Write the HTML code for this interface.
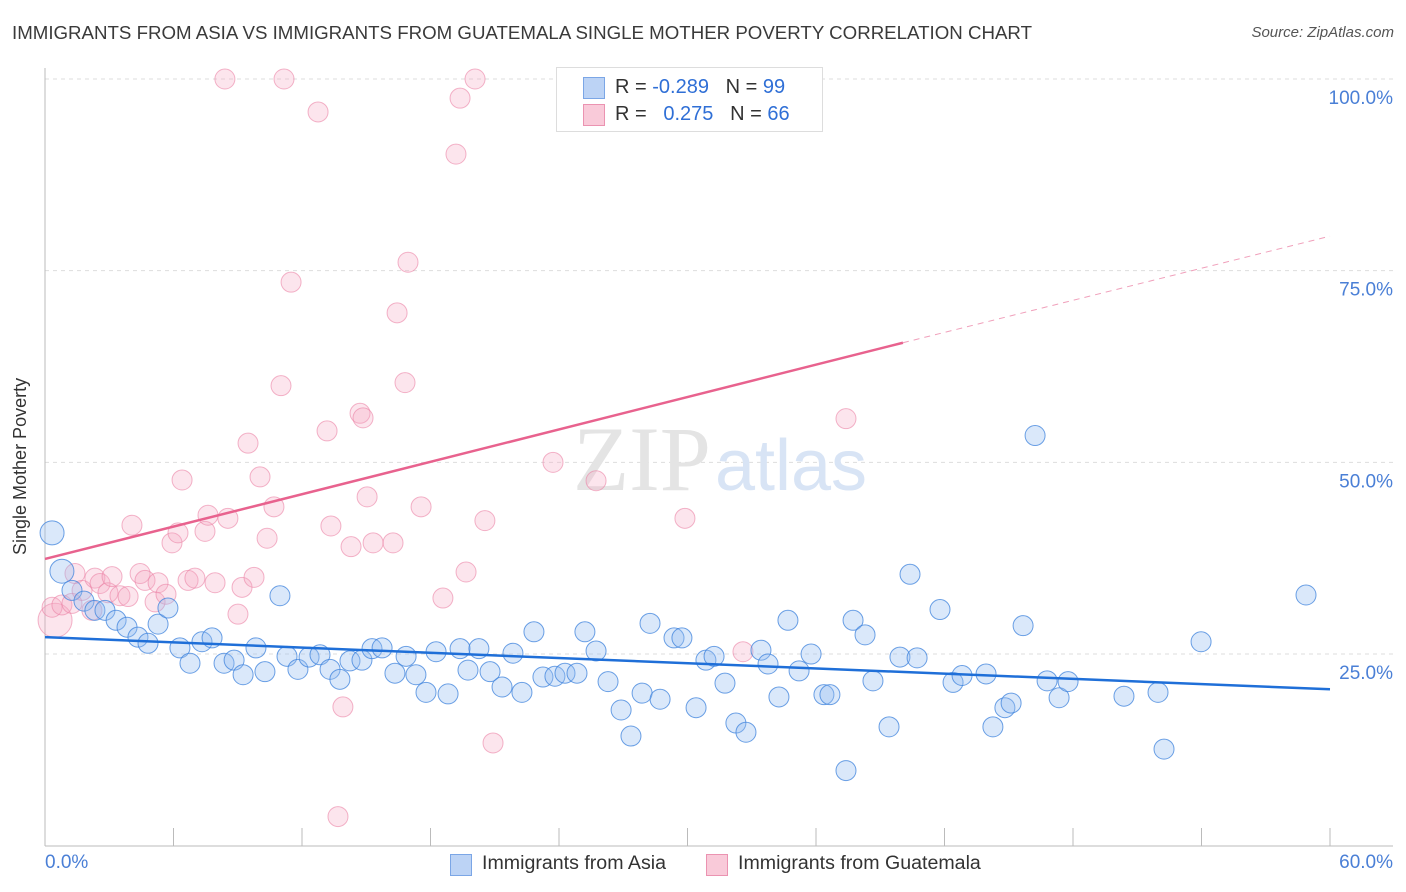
<!DOCTYPE html>
<html><head><meta charset="utf-8"><style>
body{margin:0;background:#fff;font-family:"Liberation Sans",sans-serif;}
#wrap{position:relative;width:1406px;height:892px;overflow:hidden}
.t{position:absolute;white-space:nowrap}
</style></head><body>
<div id="wrap">
<div class="t" style="left:12px;top:22px;font-size:18.7px;color:#3a3a3a">IMMIGRANTS FROM ASIA VS IMMIGRANTS FROM GUATEMALA SINGLE MOTHER POVERTY CORRELATION CHART</div>
<div class="t" style="right:12px;top:24px;font-size:15px;color:#555;font-style:italic">Source: ZipAtlas.com</div>
<div class="t" style="left:10px;top:555px;font-size:18px;color:#333;transform:rotate(-90deg);transform-origin:0 0">Single Mother Poverty</div>
<svg id="svg" width="1406" height="892" style="position:absolute;left:0;top:0"></svg>
</div>
<script>
const asiaX=[0.33,0.79,1.26,1.82,2.33,2.80,3.32,3.83,4.34,4.81,5.28,5.74,6.30,6.77,7.33,7.80,8.36,8.83,9.25,9.85,10.27,10.97,11.30,11.81,12.33,12.84,13.31,13.77,14.24,14.80,15.27,15.74,16.34,16.86,17.32,17.79,18.26,18.82,19.38,19.75,20.26,20.78,21.34,21.85,22.27,22.83,23.25,23.81,24.28,24.84,25.21,25.73,26.29,26.90,27.36,27.88,28.25,28.72,29.37,29.74,30.40,30.86,31.24,31.75,32.26,32.73,33.43,33.76,34.27,34.69,35.21,35.77,36.37,36.65,37.40,37.73,38.29,38.66,39.41,39.92,40.39,40.72,41.79,42.40,42.82,43.94,44.26,44.82,45.11,45.67,46.23,46.79,47.35,47.77,50.38,51.97,52.25,53.98,58.88];
const asiaY=[40.8,35.8,33.3,31.9,30.7,30.7,29.4,28.5,27.2,26.4,28.9,31.0,25.8,23.8,26.6,27.1,23.8,24.2,22.3,25.8,22.7,32.6,24.7,23.0,24.6,24.9,23.0,21.7,24.1,24.2,25.7,25.8,22.5,24.7,22.3,20.0,25.3,19.8,25.7,22.9,25.7,22.7,20.7,25.1,20.0,27.9,22.0,22.1,22.5,22.5,27.9,25.4,21.4,17.7,14.3,19.9,29.0,19.1,27.1,27.1,18.0,24.2,24.7,21.2,16.0,14.8,25.5,23.7,19.4,29.4,22.8,25.0,19.7,19.7,9.8,29.4,27.5,21.5,15.5,24.6,35.4,24.5,30.8,21.3,22.2,22.4,15.5,18.0,18.6,28.7,53.5,21.5,19.3,21.4,19.5,20.0,12.6,26.6,32.7];
const guaX=[0.47,0.33,0.79,1.26,1.40,1.73,2.19,2.33,2.57,2.94,3.13,3.50,3.88,4.06,4.44,4.67,5.14,5.28,5.65,5.93,6.21,6.40,6.68,7.00,7.47,7.61,7.94,8.54,9.01,9.20,9.48,9.76,10.04,10.37,10.69,11.02,11.49,12.75,8.40,11.16,13.17,13.35,13.68,13.91,14.29,14.71,14.85,15.04,15.32,16.25,16.44,16.81,16.95,17.56,18.58,19.19,19.38,19.66,20.08,20.54,20.92,23.72,25.73,29.88,32.59,37.40];
const guaY=[29.4,31.1,31.4,31.6,35.5,33.3,30.7,34.9,34.2,33.0,35.1,32.6,32.5,41.8,35.5,34.6,31.8,34.3,32.8,39.5,40.8,47.7,34.6,34.9,41.0,43.1,34.3,42.7,30.2,33.7,52.5,35.0,48.1,40.1,44.2,60.0,73.5,95.7,100,100,54.1,41.7,3.8,18.1,39.0,56.4,55.8,45.5,39.5,39.5,69.5,60.4,76.1,44.2,32.3,90.2,97.5,35.7,100,42.4,13.4,50.0,47.6,42.7,25.3,55.7];
const yTicks=[25,50,75,100];
const X=v=>45+v/60*1285, Y=v=>845.7-v*7.667;
const s=document.getElementById('svg');const NS='http://www.w3.org/2000/svg';
function mk(t,a,p){const e=document.createElementNS(NS,t);for(const k in a)e.setAttribute(k,a[k]);(p||s).appendChild(e);return e;}
for(const v of yTicks){const g=mk('line',{x1:45,x2:1393,y1:Y(v),y2:Y(v),stroke:'#ddd','stroke-dasharray':'4,4'});


const t=mk('text',{x:1393,y:Y(v)+25,'text-anchor':'end','font-size':19,fill:'#4a7fd6','font-family':'Liberation Sans'});t.textContent=v.toFixed(1)+'%';

}
mk('line',{x1:45,x2:1393,y1:846,y2:846,stroke:'#bbb'});
mk('line',{x1:45,x2:45,y1:68,y2:846,stroke:'#bbb'});
for(let i=0;i<=10;i++){const l=mk('line',{x1:X(i*6),x2:X(i*6),y1:828,y2:846,stroke:'#bbb'});

}
const w=mk('text',{x:720,y:490,'text-anchor':'middle','font-size':92,fill:'#e4e4e4','font-family':'Liberation Serif'});
w.innerHTML='ZIP<tspan font-family="Liberation Sans" font-size="72" fill="#d8e4f5" dx="4">atlas</tspan>';


function pts(xs,ys,fill,stroke,name,big){for(let i=0;i<Math.min(xs.length,ys.length);i++){
const c=mk('circle',{cx:X(xs[i]),cy:Y(ys[i]),r:big[i]||10,fill:fill,stroke:stroke,'stroke-width':1});

}}
pts(guaX,guaY,'rgba(246,170,195,0.3)','rgba(235,130,165,0.6)','guatemala-point',{0:17});
pts(asiaX,asiaY,'rgba(150,190,240,0.35)','rgba(60,130,220,0.75)','asia-point',{0:12,1:12});
const bl=mk('line',{x1:X(0),y1:Y(27.2),x2:X(60),y2:Y(20.4),stroke:'#1f6fd8','stroke-width':2.5});


const pl=mk('line',{x1:X(0),y1:Y(37.4),x2:X(40.06),y2:Y(65.6),stroke:'#e8628e','stroke-width':2.5});


const pd=mk('line',{x1:X(40.06),y1:Y(65.6),x2:X(60),y2:Y(79.5),stroke:'#f0a0bb','stroke-width':1,'stroke-dasharray':'6,5'});


</script>
<div class="t" style="left:45px;top:852px;font-size:19px;color:#4a7fd6">0.0%</div>
<div class="t" style="right:13px;top:852px;font-size:19px;color:#4a7fd6">60.0%</div>
<div style="position:absolute;left:556px;top:67px;width:265px;height:63px;border:1px solid #ddd;background:#fff;font-size:20px;color:#333">
<div style="position:absolute;left:26px;top:9px;width:20px;height:20px;background:#bcd3f5;border:1px solid #7ba6e6"></div>
<div class="t" style="left:58px;top:8px">R = <span style="color:#2f6fd6">-0.289</span>&nbsp;&nbsp;&nbsp;N = <span style="color:#2f6fd6">99</span></div>
<div style="position:absolute;left:26px;top:36px;width:20px;height:20px;background:#f9cad9;border:1px solid #eb93b1"></div>
<div class="t" style="left:58px;top:35px">R = &nbsp;&nbsp;<span style="color:#2f6fd6">0.275</span>&nbsp;&nbsp;&nbsp;N = <span style="color:#2f6fd6">66</span></div>
</div>
<div style="position:absolute;left:450px;top:854px;width:20px;height:20px;background:#bcd3f5;border:1px solid #7ba6e6"></div>
<div class="t" style="left:482px;top:852px;font-size:19.6px;color:#333">Immigrants from Asia</div>
<div style="position:absolute;left:706px;top:854px;width:20px;height:20px;background:#f9cad9;border:1px solid #eb93b1"></div>
<div class="t" style="left:738px;top:852px;font-size:19.6px;color:#333">Immigrants from Guatemala</div>
</body></html>
